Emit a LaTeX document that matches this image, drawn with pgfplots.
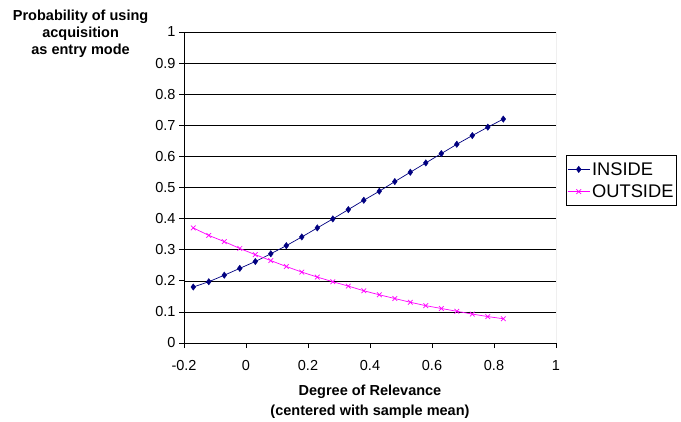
\documentclass[border=0pt]{standalone}
\usepackage{pgfplots}
\pgfplotsset{compat=1.18}
\usepackage{fontspec}
\setmainfont{Liberation Sans}
\definecolor{inside}{HTML}{000080}
\definecolor{outside}{HTML}{FF00FF}
\pgfplotstableread{
x in out
-0.17 0.180 0.370
-0.12 0.197 0.346
-0.07 0.218 0.326
-0.02 0.240 0.304
0.03 0.262 0.284
0.08 0.287 0.265
0.13 0.313 0.246
0.18 0.341 0.228
0.23 0.370 0.212
0.28 0.399 0.197
0.33 0.429 0.183
0.38 0.459 0.168
0.43 0.488 0.155
0.48 0.519 0.143
0.53 0.549 0.131
0.58 0.579 0.120
0.63 0.609 0.111
0.68 0.639 0.102
0.73 0.667 0.093
0.78 0.694 0.085
0.83 0.720 0.078
}\datatable
\begin{document}
\begin{tikzpicture}
\useasboundingbox (0,0) rectangle (681bp,422bp);
\begin{axis}[
  at={(184bp,79bp)}, anchor=south west,
  scale only axis, width=372bp, height=311bp,
  xmin=-0.2, xmax=1, ymin=0, ymax=1,
  xtick={-0.2,0,0.2,0.4,0.6,0.8,1},
  ytick={0,0.1,...,1},
  axis x line*=bottom, axis y line*=left,
  axis line style={black, line width=0.8pt, -},
  tick align=outside, major tick length=5bp,
  tick style={black, line width=0.8pt},
  ymajorgrids, grid style={black, line width=0.6pt},
  /pgf/number format/assume math mode=true,
  /pgf/number format/fixed,
  ticklabel style={font=\fontsize{14.5bp}{16bp}\selectfont},
  xticklabel style={yshift=-9bp},
  yticklabel style={xshift=0bp},
  xlabel={Degree of Relevance\\(centered with sample mean)},
  every axis x label/.style={at={(axis description cs:0.5,-0.19)}, anchor=center, align=center, font=\fontsize{14.5bp}{20bp}\selectfont\bfseries},
  ylabel={Probability of using\\acquisition\\as entry mode},
  every axis y label/.style={at={(axis description cs:-0.278,0.995)}, anchor=center, align=center, font=\fontsize{14.5bp}{16.7bp}\selectfont\bfseries},
  legend style={at={(axis description cs:1.027,0.603)}, anchor=north west, draw=black, line width=0.6pt, font=\fontsize{18.3bp}{21bp}\selectfont, inner xsep=1bp, inner ysep=4.5bp, row sep=4bp},
  legend cell align=left,
  legend image code/.code={\draw[mark repeat=2,mark phase=2,#1] plot coordinates {(0cm,0cm) (0.39cm,0cm) (0.78cm,0cm)};},
]
\draw[gray, line width=0.8pt] (rel axis cs:1,0) -- (rel axis cs:1,1);
\addplot[color=inside, line width=0.7pt, mark=diamond*, mark size=3.2bp, mark options={fill=inside, line width=0.4pt}] table[x=x,y=in]{\datatable};
\addlegendentry{INSIDE}
\addplot[color=outside, line width=0.7pt, mark=x, mark size=3.3bp, mark options={line width=0.7pt}] table[x=x,y=out]{\datatable};
\addlegendentry{OUTSIDE}
\end{axis}
\end{tikzpicture}
\end{document}
